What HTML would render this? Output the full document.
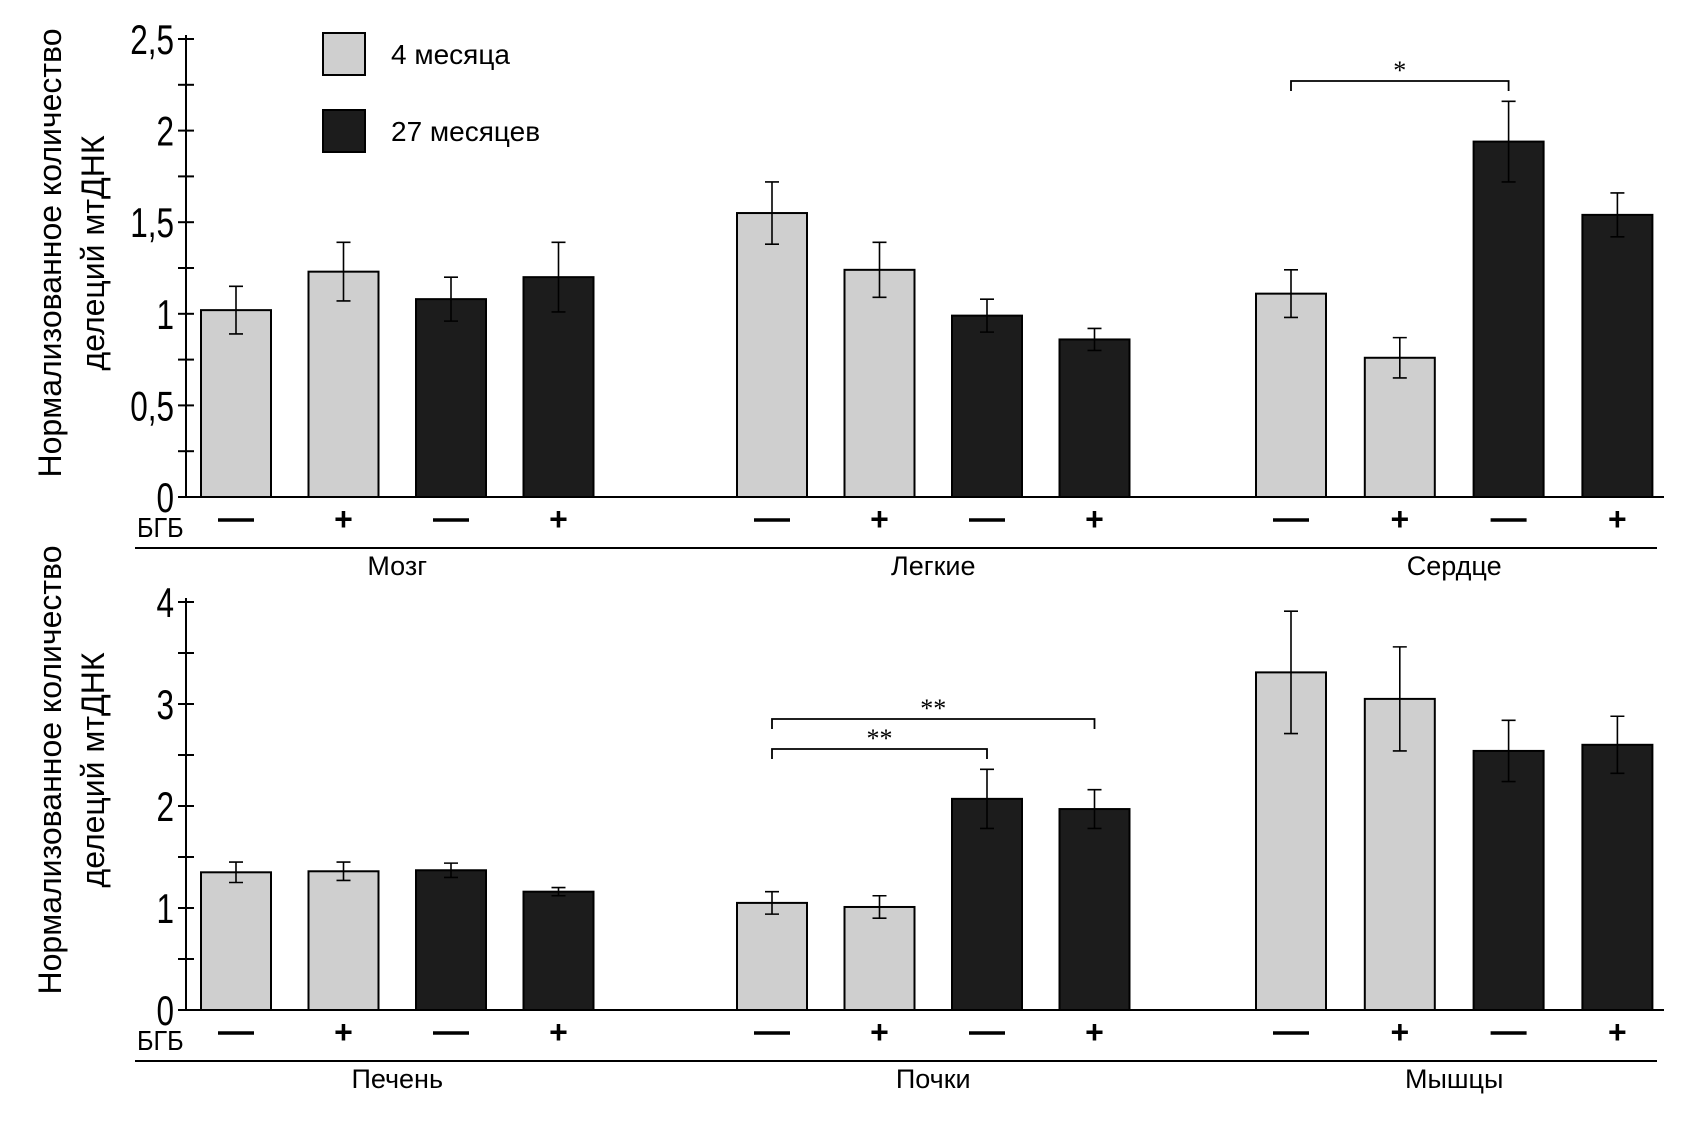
<!DOCTYPE html>
<html><head><meta charset="utf-8">
<style>
html,body{margin:0;padding:0;background:#fff;}
svg{display:block;font-family:"Liberation Sans",sans-serif;}
</style></head>
<body>
<svg id="chart" width="1690" height="1143" viewBox="0 0 1690 1143" xmlns="http://www.w3.org/2000/svg">
  <g>
    <rect x="323" y="33" width="42" height="42" fill="#cfcfcf" stroke="#000" stroke-width="2"/>
    <text x="391" y="64" font-size="28">4 месяца</text>
    <rect x="323" y="110" width="42" height="42" fill="#1c1c1c" stroke="#000" stroke-width="2"/>
    <text x="391" y="141" font-size="28">27 месяцев</text>
  </g>
</svg>
<script>
// ---- data ----
const groupsTop = ["Мозг", "Легкие", "Сердце"];
const groupsBottom = ["Печень", "Почки", "Мышцы"];
const treatment = ["—", "+", "—", "+"];
const ageSeries = ["4 месяца", "4 месяца", "27 месяцев", "27 месяцев"];
const valuesTop = [[1.02, 1.23, 1.08, 1.20], [1.55, 1.24, 0.99, 0.86], [1.11, 0.76, 1.94, 1.54]];
const errorsTop = [[0.13, 0.16, 0.12, 0.19], [0.17, 0.15, 0.09, 0.06], [0.13, 0.11, 0.22, 0.12]];
const valuesBottom = [[1.35, 1.36, 1.37, 1.16], [1.05, 1.01, 2.07, 1.97], [3.31, 3.05, 2.54, 2.60]];
const errorsBottom = [[0.10, 0.09, 0.07, 0.04], [0.11, 0.11, 0.29, 0.19], [0.60, 0.51, 0.30, 0.28]];
const ticksTop = [0, 0.5, 1, 1.5, 2, 2.5];
const tickLabelsTop = ["0", "0,5", "1", "1,5", "2", "2,5"];
const ticksBottom = [0, 1, 2, 3, 4];
const tickLabelsBottom = ["0", "1", "2", "3", "4"];
const sigTop = [{g: 2, a: 0, b: 2, label: "*"}];
const sigBottom = [{g: 1, a: 0, b: 2, label: "**"}, {g: 1, a: 0, b: 3, label: "**"}];

const NS = "http://www.w3.org/2000/svg";
const svg = document.getElementById("chart");
function mk(tag, attrs, parent) {
  const e = document.createElementNS(NS, tag);
  for (const k in attrs) e.setAttribute(k, attrs[k]);
  (parent || svg).appendChild(e);
  return e;
}
const groupStart = [201, 737, 1256];
const groupPitch = [107.5, 107.5, 108.8];
const barW = 70, axisX = 186, axisEnd = 1664;
function xBar(g, i) { return groupStart[g] + i * groupPitch[g]; }
function xCenter(g, i) { return xBar(g, i) + barW / 2; }

function panel(p) {
  const y = v => p.base - v * p.unit;
  const g = mk("g", {});
  
  
  p.values.forEach((vals, gi) => {
    vals.forEach((v, i) => {
      const dark = ageSeries[i] === "27 месяцев";
      const r = mk("rect", {x: xBar(gi, i), y: y(v), width: barW, height: p.base - y(v),
        fill: dark ? "#1c1c1c" : "#cfcfcf", stroke: "#000", "stroke-width": 2}, g);
      
      
      const e = p.errors[gi][i], cx = xCenter(gi, i);
      const eb = mk("path", {d: `M${cx},${y(v + e)}V${y(v - e)}M${cx - 7},${y(v + e)}H${cx + 7}M${cx - 7},${y(v - e)}H${cx + 7}`,
        stroke: "#000", "stroke-width": 1.6, fill: "none"}, g);
      
      
      if (treatment[i] === "+") {
        const s = mk("text", {x: cx, y: p.base + 33, "text-anchor": "middle", "font-size": 32, "font-weight": "bold"}, g);
        s.textContent = "+";
        
        
      } else {
        const s = mk("line", {x1: cx - 18, x2: cx + 18, y1: p.base + 23, y2: p.base + 23, stroke: "#000", "stroke-width": 3.5}, g);
        
        
      }
    });
    const gl = mk("text", {x: xCenter(gi, 0) + 1.5 * groupPitch[gi], y: p.base + 78, "text-anchor": "middle", "font-size": 27,
      transform: ``}, g);
    gl.textContent = p.groups[gi];
    
    
  });
  const ax = mk("path", {d: `M${axisX},${y(p.max) - 4}V${p.base}M${axisX},${p.base}H${axisEnd}`, stroke: "#000", "stroke-width": 2, fill: "none"}, g);
  
  
  for (let v = 0; v <= p.max + 1e-9; v += p.minor) {
    const t = mk("line", {x1: axisX - 8, x2: axisX + 8, y1: y(v), y2: y(v), stroke: "#000", "stroke-width": 2}, g);
    
    
  }
  p.ticks.forEach((v, k) => {
    const t = mk("text", {x: 174, y: y(v) + 15, "text-anchor": "end", "font-size": 42,
      transform: `translate(174,0) scale(0.75,1) translate(-174,0)`}, g);
    t.textContent = p.tickLabels[k];
    
    
  });
  const bl = mk("text", {x: 137, y: p.base + 40, "font-size": 28, transform: `translate(137,0) scale(0.9,1) translate(-137,0)`}, g);
  bl.textContent = "БГБ";
  
  
  const sep = mk("line", {x1: 135, x2: 1657, y1: p.base + 51, y2: p.base + 51, stroke: "#000", "stroke-width": 2}, g);
  
  
  const tt = mk("text", {transform: `translate(${p.titleX},${p.titleY}) rotate(-90)`, "text-anchor": "middle", "font-size": 32}, g);
  
  
  const t1 = mk("tspan", {x: 0, y: 0}, tt); t1.textContent = "Нормализованное количество";
  const t2 = mk("tspan", {x: 0, y: 43}, tt); t2.textContent = "делеций мтДНК";
  p.sig.forEach((s, k) => {
    const x1 = xCenter(s.g, s.a), x2 = xCenter(s.g, s.b), yy = p.sigY[k];
    const br = mk("path", {d: `M${x1},${yy + 10}V${yy}H${x2}V${yy + 10}`, stroke: "#000", "stroke-width": 1.8, fill: "none"}, g);
    
    
    const st = mk("text", {x: (x1 + x2) / 2, y: yy - 2, "text-anchor": "middle", "font-size": 26, "font-family": "Liberation Serif, serif"}, g);
    st.textContent = s.label;
    
    
  });
}
panel({name: "top-panel", base: 497, unit: 183.2, max: 2.5, minor: 0.25, values: valuesTop, errors: errorsTop,
  groups: groupsTop, ticks: ticksTop, tickLabels: tickLabelsTop, sig: sigTop, sigY: [81], titleX: 61, titleY: 253});
panel({name: "bottom-panel", base: 1010, unit: 102, max: 4, minor: 0.5, values: valuesBottom, errors: errorsBottom,
  groups: groupsBottom, ticks: ticksBottom, tickLabels: tickLabelsBottom, sig: sigBottom, sigY: [749, 719], titleX: 61, titleY: 770});
</script>
</body></html>
